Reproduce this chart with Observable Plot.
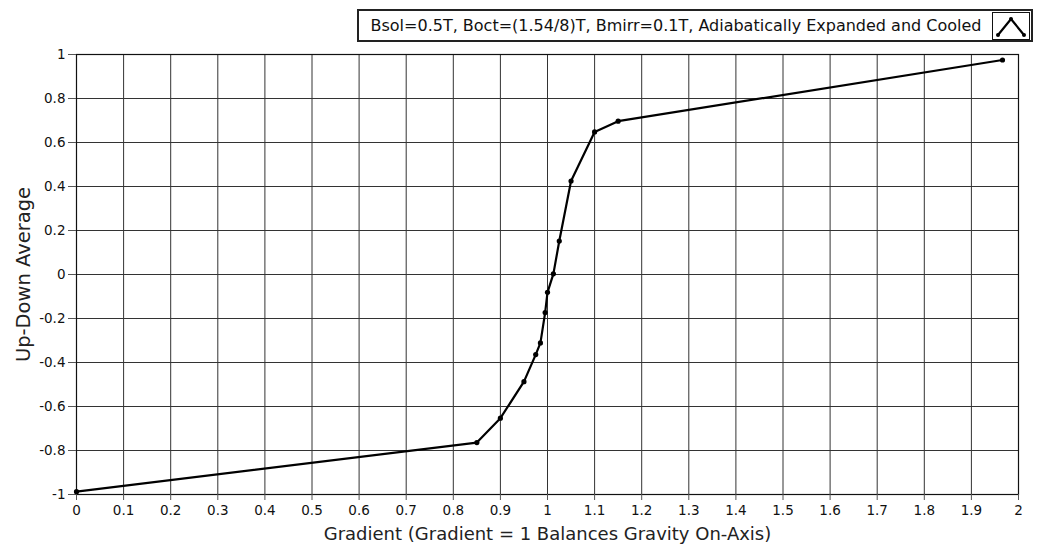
<!DOCTYPE html>
<html>
<head>
<meta charset="utf-8">
<script src="https://cdn.jsdelivr.net/npm/d3@7"></script>
<script src="https://cdn.jsdelivr.net/npm/@observablehq/plot@0.6"></script>
<style>
  html, body { margin: 0; padding: 0; background: #fff; }
  #wrap { position: relative; width: 1041px; height: 550px; font-family: "DejaVu Sans", sans-serif; }
  #legend { position: absolute; left: 357px; top: 9px; width: 672px; height: 29px; border: 2px solid #222; background: #fff; box-sizing: content-box; }
  #legend .txt { position: absolute; left: 0; top: 0; width: 634px; height: 29px; line-height: 29px; text-align: center; font-size: 16px; color: #111; white-space: nowrap; }
  #legend .icon { position: absolute; left: 633px; top: 1px; width: 36px; height: 26px; border: 1px solid #111; }
</style>
</head>
<body>
<div id="wrap">
  <div id="chart"></div>
  <div id="legend">
    <div class="txt"></div>
    <svg class="icon" width="36" height="26" viewBox="0 0 36 26">
      <polyline points="5,22 18,6 31,22" fill="none" stroke="#000" stroke-width="2.2"/>
      <circle cx="5" cy="22" r="2" fill="#000"/>
      <circle cx="18" cy="6" r="2" fill="#000"/>
      <circle cx="31" cy="22" r="2" fill="#000"/>
    </svg>
  </div>
</div>
<script>
const legendLabel = "Bsol=0.5T, Boct=(1.54/8)T, Bmirr=0.1T, Adiabatically Expanded and Cooled";
const xLabel = "Gradient (Gradient = 1 Balances Gravity On-Axis)";
const yLabel = "Up-Down Average";

const gradient = [0, 0.85, 0.9, 0.95, 0.975, 0.985, 0.995, 1.0, 1.0125, 1.025, 1.05, 1.1, 1.15, 1.966];
const upDown   = [-0.987, -0.764, -0.653, -0.487, -0.364, -0.311, -0.173, -0.081, 0.003, 0.152, 0.425, 0.648, 0.697, 0.975];

const xTicks = [0,0.1,0.2,0.3,0.4,0.5,0.6,0.7,0.8,0.9,1,1.1,1.2,1.3,1.4,1.5,1.6,1.7,1.8,1.9,2];
const yTicks = [-1,-0.8,-0.6,-0.4,-0.2,0,0.2,0.4,0.6,0.8,1];

const data = gradient.map((g, i) => ({x: g, y: upDown[i]}));
const fmt = d => { const v = +d.toFixed(1); return v === 0 ? "0" : String(v); };

document.querySelector("#legend .txt").textContent = legendLabel;

const chart = Plot.plot({
  width: 1041,
  height: 550,
  marginLeft: 76,
  marginRight: 23,
  marginTop: 54,
  marginBottom: 56,
  style: { fontFamily: "'DejaVu Sans', sans-serif", fontSize: "13.5px", background: "#fff", color: "#111" },
  x: { domain: [0, 2] },
  y: { domain: [-1, 1] },
  marks: [
    Plot.gridX(xTicks, { stroke: "#333", strokeOpacity: 1, strokeWidth: 1 }),
    Plot.gridY(yTicks, { stroke: "#333", strokeOpacity: 1, strokeWidth: 1 }),
    Plot.frame({ stroke: "#111", strokeWidth: 1.2 }),
    Plot.axisX(xTicks, { tickSize: 6, tickPadding: 5, tickFormat: fmt, label: null, stroke: "#555" }),
    Plot.axisY(yTicks, { tickSize: 8, tickPadding: 3, tickFormat: fmt, label: null, stroke: "#555" }),
    Plot.line(data, { x: "x", y: "y", stroke: "#000", strokeWidth: 2.2 }),
    Plot.dot(data, { x: "x", y: "y", r: 2.6, fill: "#000" }),
    Plot.text([xLabel], { frameAnchor: "bottom", dy: 45, fontSize: 18, fill: "#222" }),
    Plot.text([yLabel], { frameAnchor: "left", textAnchor: "middle", dx: -53, rotate: -90, fontSize: 19.5, fill: "#222" })
  ]
});
document.getElementById("chart").appendChild(chart);
</script>
</body>
</html>
